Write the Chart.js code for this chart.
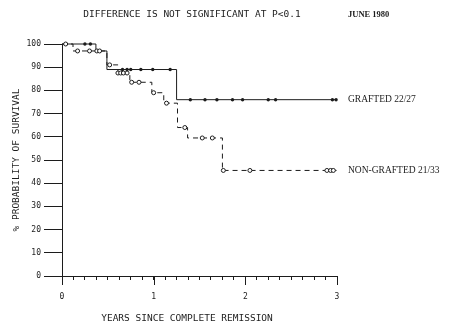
<!DOCTYPE html>
<html>
<head>
<meta charset="utf-8">
<script src="https://cdn.jsdelivr.net/npm/chart.js@4.4.0/dist/chart.umd.min.js"></script>
<style>
  body{margin:0;background:#fff;}
  canvas{display:block;}
</style>
</head>
<body>
<canvas id="myChart" width="450" height="334"></canvas>
<script>
// step points of each survival curve (years, % surviving)
var graftedTimes=[0,0.37,0.49,1.25,3.0];
var graftedSurv=[100,97,89,76,76];
var nonGraftedTimes=[0,0.12,0.49,0.61,0.74,0.98,1.11,1.26,1.37,1.75,3.0];
var nonGraftedSurv=[100,97,91,87.5,83.5,79,74.5,64,59.5,45.5,45.5];

// censored patients (marks on the curves)
var graftedCensTimes=[0.25,0.31,0.66,0.71,0.75,0.86,0.99,1.18,1.40,1.56,1.69,1.86,1.97,2.25,2.33,2.95,2.99];
var graftedCensSurv=[100,100,89,89,89,89,89,89,76,76,76,76,76,76,76,76,76];
var nonGraftedCensTimes=[0.04,0.17,0.30,0.38,0.41,0.52,0.61,0.64,0.67,0.71,0.76,0.84,1.00,1.14,1.34,1.53,1.64,1.76,2.05,2.89,2.93,2.96];
var nonGraftedCensSurv=[100,97,97,97,97,91,87.5,87.5,87.5,87.5,83.5,83.5,79,74.5,64,59.5,59.5,45.5,45.5,45.5,45.5,45.5];

var majorYears=[0,1,2,3];
var seriesLabels=['GRAFTED 22/27','NON-GRAFTED 21/33'];
var titleText='DIFFERENCE IS NOT SIGNIFICANT AT P<0.1';
var dateText='JUNE 1980';
var xTitle='YEARS SINCE COMPLETE REMISSION';
var yTitle='% PROBABILITY OF SURVIVAL';

var ink='#1c1c1c';
var mono='"DejaVu Sans Mono", monospace';

function toPoints(xs,ys){
  return xs.map(function(x,i){return {x:x,y:ys[i]};});
}

var extras={
  id:'extras',
  afterDraw:function(chart){
    var ctx=chart.ctx, xs=chart.scales.x, ys=chart.scales.y;
    ctx.save();
    ctx.strokeStyle=ink;
    ctx.lineWidth=1;
    // longer ticks on whole years
    majorYears.forEach(function(v){
      var px=Math.round(xs.getPixelForValue(v))+0.5;
      ctx.beginPath();
      ctx.moveTo(px,ys.bottom);
      ctx.lineTo(px,ys.bottom+9);
      ctx.stroke();
    });
    ctx.fillStyle=ink;
    ctx.textBaseline='middle';
    ctx.textAlign='center';
    ctx.font='9.5px '+mono;
    ctx.fillText(titleText,192,15);
    ctx.fillText(xTitle,187,319);
    ctx.textAlign='left';
    ctx.font='bold 8.5px "Liberation Serif"';
    ctx.fillText(dateText,348,15);
    ctx.font='9.5px "Liberation Serif"';
    ctx.fillText(seriesLabels[0],348,ys.getPixelForValue(graftedSurv[graftedSurv.length-1]));
    ctx.fillText(seriesLabels[1],348,ys.getPixelForValue(nonGraftedSurv[nonGraftedSurv.length-1]));
    ctx.restore();
  }
};

var ctx=document.getElementById('myChart');
var myChart=new Chart(ctx,{
  type:'scatter',
  data:{
    datasets:[
      {
        label:seriesLabels[0]+' censored',
        data:toPoints(graftedCensTimes,graftedCensSurv),
        showLine:false,
        pointRadius:1.7,
        pointBorderWidth:0,
        pointBackgroundColor:ink,
        clip:false
      },
      {
        label:seriesLabels[1]+' censored',
        data:toPoints(nonGraftedCensTimes,nonGraftedCensSurv),
        showLine:false,
        pointRadius:2,
        pointBorderWidth:1,
        pointBorderColor:ink,
        pointBackgroundColor:'#fff',
        clip:false
      },
      {
        type:'line',
        label:seriesLabels[0],
        data:toPoints(graftedTimes,graftedSurv),
        stepped:true,
        borderColor:ink,
        borderWidth:1,
        pointRadius:0,
        fill:false,
        clip:false
      },
      {
        type:'line',
        label:seriesLabels[1],
        data:toPoints(nonGraftedTimes,nonGraftedSurv),
        stepped:true,
        borderColor:ink,
        borderWidth:1,
        borderDash:[5,4],
        pointRadius:0,
        fill:false,
        clip:false
      }
    ]
  },
  options:{
    responsive:false,
    animation:false,
    layout:{padding:{top:44,right:113,left:0,bottom:0}},
    plugins:{
      legend:{display:false},
      tooltip:{enabled:false}
    },
    scales:{
      x:{
        type:'linear',
        min:0,
        max:3,
        afterFit:function(s){s.height=58;},
        border:{color:ink,width:1},
        grid:{drawOnChartArea:false,tickLength:4,tickColor:ink},
        ticks:{
          stepSize:0.125,
          autoSkip:false,
          maxRotation:0,
          padding:12,
          color:ink,
          font:{family:mono,size:8},
          callback:function(v){return Number.isInteger(v)?String(v):'';}
        }
      },
      y:{
        min:0,
        max:100,
        afterFit:function(s){s.width=62;},
        border:{color:ink,width:1},
        grid:{drawOnChartArea:false,tickLength:18,tickColor:ink},
        ticks:{stepSize:10,padding:3,color:ink,font:{family:mono,size:8}},
        title:{display:true,text:yTitle,color:ink,font:{family:mono,size:9.5},padding:{top:11,bottom:0}}
      }
    }
  },
  plugins:[extras]
});
</script>
</body>
</html>
